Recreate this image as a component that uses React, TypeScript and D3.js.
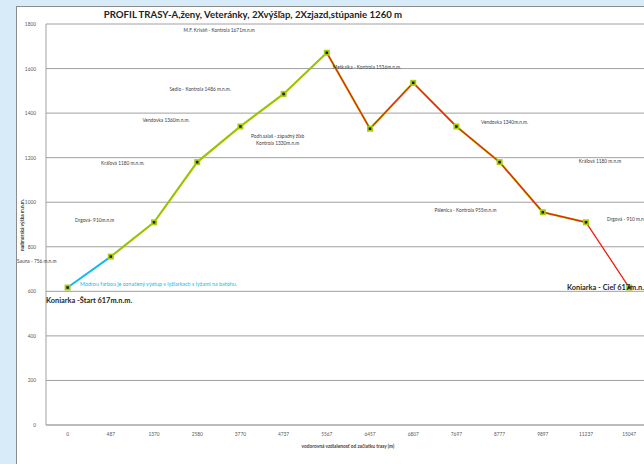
import * as d3 from 'd3'

// distance from start (m) shown as categories, elevation in m.n.m.
const distances = ['0', '487', '1370', '2580', '3770', '4737', '5567', '6457', '6807', '7697', '8777', '9897', '11237', '15047']
const elevations = [617, 756, 910, 1180, 1340, 1486, 1671, 1330, 1536, 1340, 1180, 955, 910, 617]
const yTicks = [0, 200, 400, 600, 800, 1000, 1200, 1400, 1600, 1800]

// which points belong to each coloured piece of the profile
const blueIdx = [0, 1]
const greenIdx = [1, 2, 3, 4, 5, 6, 7, 8, 9, 10, 11, 12]
const redIdx = [6, 7, 8, 9, 10, 11, 12, 13]

// label text, anchored to a category and an elevation
const notes: { text: string[]; cat: string; elev: number; dx?: number }[] = [
  { text: ['M.F. Kriváň - Kontrola 1671m.n.m'], cat: '2580', elev: 1762, dx: 22 },
  { text: ['Meškalka - Kontrola 1536m.n.m.'], cat: '6457', elev: 1598, dx: -3 },
  { text: ['Sedlo - Kontrola 1486 m.n.m.'], cat: '2580', elev: 1500, dx: 3 },
  { text: ['Vendovka 1360m.n.m.'], cat: '1370', elev: 1362, dx: 12 },
  { text: ['Podh.salaš - západný žľab', 'Kontrola 1330m.n.m'], cat: '4737', elev: 1290, dx: -6 },
  { text: ['Kráľová 1180 m.n.m.'], cat: '487', elev: 1168, dx: 12 },
  { text: ['Drgová- 910m.n.m'], cat: '0', elev: 912, dx: 27 },
  { text: ['Vendovka 1340m.n.m.'], cat: '8777', elev: 1352, dx: 5 },
  { text: ['Kráľová 1180 m.n.m'], cat: '11237', elev: 1176, dx: 14 },
  { text: ['Pálenica - Kontrola 955m.n.m'], cat: '7697', elev: 954, dx: 9 },
]

export default function App() {
  const W = 644
  const H = 464
  const left = 46
  const top = 24
  const bottom = 425
  const step = 43.2

  const x = d3.scalePoint<string>()
    .domain(distances)
    .range([left, left + step * distances.length])
    .padding(0.5)

  const y = d3.scaleLinear().domain([0, 1800]).range([bottom, top])

  const line = d3.line<number>()
    .x(i => x(distances[i])!)
    .y(i => y(elevations[i]))

  const right = left + step * distances.length

  return (
    <svg width={W} height={H} style={{ position: 'absolute', left: 0, top: 0 }}
      fontFamily="Lato, 'Open Sans', sans-serif">
      <rect x={0} y={0} width={W} height={H} fill="#d7ebf9" />
      <rect x={16.5} y={6.5} width={W} height={H} fill="#ffffff" stroke="#8c8c8c" />

      <text x={253} y={18} textAnchor="middle" fontSize={9.6} fontWeight="bold" fill="#222">
        PROFIL TRASY-A,ženy, Veteránky, 2Xvýšľap, 2Xzjazd,stúpanie 1260 m
      </text>

      {yTicks.map(t => (
        <g key={t}>
          <line x1={left} x2={right} y1={y(t)} y2={y(t)}
            stroke={t === 0 ? '#a6a6a6' : '#a0a0a0'} strokeWidth={t === 0 ? 1.5 : 1} />
          <text x={left - 10} y={y(t) + 2} textAnchor="end" fontSize={4.8} fill="#595959">{t}</text>
        </g>
      ))}
      <line x1={left} x2={left} y1={top} y2={bottom} stroke="#a0a0a0" />

      {distances.map(d => (
        <text key={d} x={x(d)} y={436} textAnchor="middle" fontSize={4.8} fill="#595959">{d}</text>
      ))}

      <text x={348} y={448} textAnchor="middle" fontSize={4.8} fontWeight="bold" fill="#404040">
        vodorovná vzdialenosť od začiatku trasy (m)
      </text>
      <text transform={`translate(24,225) rotate(-90)`} textAnchor="middle" fontSize={4.8}
        fontWeight="bold" fill="#404040">
        nadmorská výška m.n.m.
      </text>

      <path d={line(blueIdx)!} fill="none" stroke="#14b9ee" strokeWidth={2} />
      <path d={line(greenIdx)!} fill="none" stroke="#9bc400" strokeWidth={2.2} />
      <path d={line(redIdx)!} fill="none" stroke="#f41e0c" strokeWidth={1.3} />

      {elevations.map((e, i) => (
        <g key={i}>
          <rect x={x(distances[i])! - 3} y={y(e) - 3} width={6} height={6} fill="#a8cc10" />
          <rect x={x(distances[i])! - 1.3} y={y(e) - 1.3} width={2.6} height={2.6} fill="#202020" />
        </g>
      ))}

      {notes.map((n, k) => (
        <text key={k} textAnchor="middle" fontSize={4.8} fill="#404040" y={y(n.elev)}>
          {n.text.map((t, j) => (
            <tspan key={j} x={x(n.cat)! + (n.dx ?? 0)} dy={j === 0 ? 0 : 7}>{t}</tspan>
          ))}
        </text>
      ))}

      <text x={17} y={263} fontSize={4.8} fill="#404040">Sauna - 756 m.n.m</text>
      <text x={607} y={221} fontSize={4.8} fill="#404040">Drgová - 910 m.n.m</text>
      <text x={80} y={286} fontSize={5.4} fill="#19b6ee">
        Modrou farbou je označený výstup v lyžiarkach s lyžami na batohu.
      </text>
      <text x={46} y={303} fontSize={7.4} fontWeight="bold" fill="#262626">Koniarka -Štart 617m.n.m.</text>
      <text x={567} y={290} fontSize={7.4} fontWeight="bold" fill="#262626">Koniarka - Cieľ 617m.n.m.</text>
    </svg>
  )
}
